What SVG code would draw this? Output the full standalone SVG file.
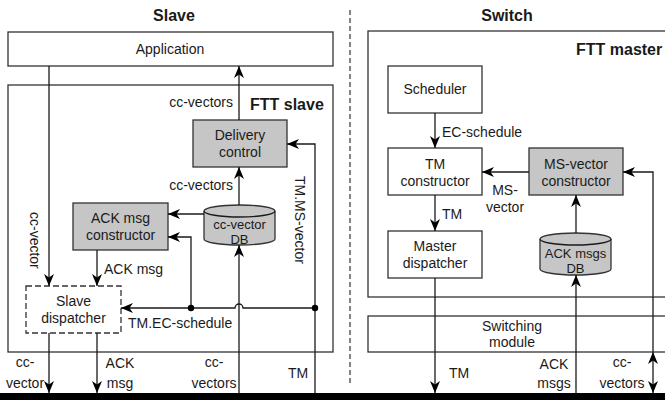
<svg xmlns="http://www.w3.org/2000/svg" width="665" height="400" viewBox="0 0 665 400">
  <style>
    text { font-family: "Liberation Sans", Arial, sans-serif; font-size: 14px; fill: #1a1a1a; }
    .title { font-size: 16px; font-weight: bold; }
    .mid { text-anchor: middle; }
    .db { font-size: 13px; }
    .box { fill: #ffffff; stroke: #333333; stroke-width: 1.3; }
    .grey { fill: #c6c6c6; stroke: #333333; stroke-width: 1.3; }
    .dash { fill: #ffffff; stroke: #333333; stroke-width: 1.3; stroke-dasharray: 6 3; }
    .wire { fill: none; stroke: #1a1a1a; stroke-width: 1.3; }
    .arr { marker-end: url(#head); }
  </style>
  <defs>
    <marker id="head" viewBox="-13 -6 14 12" refX="0" refY="0" markerWidth="14" markerHeight="12" markerUnits="userSpaceOnUse" orient="auto-start-reverse">
      <path d="M0,0 L-12,-5 L-8.5,0 L-12,5 Z" fill="#000000"/>
    </marker>
  </defs>

  <rect width="665" height="400" fill="#ffffff"/>

  <!-- section titles and divider -->
  <text class="title mid" x="174" y="21">Slave</text>
  <text class="title mid" x="507" y="21">Switch</text>
  <line x1="350" y1="10" x2="350" y2="384" stroke="#333333" stroke-width="1.2" stroke-dasharray="5 3"/>

  <!-- containers -->
  <g id="application">
    <rect class="box" x="8" y="32" width="325" height="34"/>
    <text class="mid" x="170" y="54">Application</text>
  </g>
  <g id="ftt-slave">
    <rect class="box" x="8" y="85" width="325" height="267"/>
    <text class="title" x="250" y="110">FTT slave</text>
  </g>
  <g id="ftt-master">
    <rect class="box" x="368" y="31" width="320" height="266"/>
    <text class="title" x="576" y="55">FTT master</text>
  </g>
  <g id="switching-module">
    <rect class="box" x="368" y="316" width="320" height="36"/>
    <text class="mid" x="512" y="331">Switching</text>
    <text class="mid" x="512" y="347">module</text>
  </g>

  <!-- slave nodes -->
  <g id="delivery-control">
    <rect class="grey" x="193" y="120" width="94" height="47"/>
    <text class="mid" x="240" y="140">Delivery</text>
    <text class="mid" x="240" y="157">control</text>
  </g>
  <g id="cc-vector-db">
    <path class="grey" d="M204,211 A35.5,6 0 0 1 275,211 V239 A35.5,6 0 0 1 204,239 Z"/>
    <path class="wire" d="M204,211 A35.5,6 0 0 0 275,211" stroke="#333333"/>
    <text class="mid db" x="239.5" y="229">cc-vector</text>
    <text class="mid db" x="239.5" y="244">DB</text>
  </g>
  <g id="ack-msg-constructor">
    <rect class="grey" x="73" y="203" width="95" height="47"/>
    <text class="mid" x="120.5" y="223">ACK msg</text>
    <text class="mid" x="120.5" y="240">constructor</text>
  </g>
  <g id="slave-dispatcher">
    <rect class="dash" x="26" y="286" width="95" height="47"/>
    <text class="mid" x="73.5" y="306">Slave</text>
    <text class="mid" x="73.5" y="323">dispatcher</text>
  </g>

  <!-- master nodes -->
  <g id="scheduler">
    <rect class="box" x="388" y="66" width="94" height="47"/>
    <text class="mid" x="435" y="94">Scheduler</text>
  </g>
  <g id="tm-constructor">
    <rect class="box" x="388" y="148" width="94" height="47"/>
    <text class="mid" x="435" y="169">TM</text>
    <text class="mid" x="435" y="186">constructor</text>
  </g>
  <g id="ms-vector-constructor">
    <rect class="grey" x="529" y="148" width="94" height="47"/>
    <text class="mid" x="576" y="169">MS-vector</text>
    <text class="mid" x="576" y="186">constructor</text>
  </g>
  <g id="master-dispatcher">
    <rect class="box" x="388" y="231" width="94" height="47"/>
    <text class="mid" x="435" y="251">Master</text>
    <text class="mid" x="435" y="268">dispatcher</text>
  </g>
  <g id="ack-msgs-db">
    <path class="grey" d="M540,239 A35.5,6 0 0 1 611,239 V269 A35.5,6 0 0 1 540,269 Z"/>
    <path class="wire" d="M540,239 A35.5,6 0 0 0 611,239" stroke="#333333"/>
    <text class="mid db" x="575.5" y="258">ACK msgs</text>
    <text class="mid db" x="575.5" y="273">DB</text>
  </g>

  <!-- network bus -->
  <g id="bus">
    <rect x="0" y="393" width="665" height="7" fill="#000000"/>
  </g>

  <!-- connectors -->
  <g id="connectors">
    <!-- slave side -->
    <path class="wire arr" d="M49,66 V286"/>
    <path class="wire arr" d="M239,120 V66"/>
    <path class="wire arr" d="M315,393 V144 H287"/>
    <path class="wire arr" d="M239,205 V167"/>
    <path class="wire arr" d="M204,214 H168"/>
    <path class="wire arr" d="M191,308 V237 H168"/>
    <path class="wire arr" d="M315,308 H243 A4,4 0 0 0 235,308 H121"/>
    <circle cx="191" cy="308" r="3.2" fill="#000000"/>
    <circle cx="315" cy="308" r="3.2" fill="#000000"/>
    <path class="wire arr" d="M97,250 V286"/>
    <path class="wire arr" d="M49,333 V393"/>
    <path class="wire arr" d="M97,333 V393"/>
    <path class="wire arr" d="M239,393 V245"/>

    <!-- switch side -->
    <path class="wire arr" d="M435,113 V148"/>
    <path class="wire arr" d="M529,172 H482"/>
    <path class="wire arr" d="M435,195 V231"/>
    <path class="wire arr" d="M435,278 V393"/>
    <path class="wire arr" d="M576,233 V195"/>
    <path class="wire arr" d="M576,393 V275"/>
    <path class="wire arr" d="M653,352 V172 H623"/>
    <path class="wire" d="M653,352 V393" marker-start="url(#head)" marker-end="url(#head)"/>

    <!-- connector labels -->
    <text x="233" y="107" text-anchor="end">cc-vectors</text>
    <text x="233" y="190" text-anchor="end">cc-vectors</text>
    <text transform="translate(30,212) rotate(90)">cc-vector</text>
    <text transform="translate(295,176) rotate(90)">TM.MS-vector</text>
    <text x="104" y="274">ACK msg</text>
    <text x="128" y="328">TM.EC-schedule</text>
    <text class="mid" x="25" y="367">cc-</text>
    <text class="mid" x="25" y="388">vector</text>
    <text class="mid" x="120" y="368">ACK</text>
    <text class="mid" x="120" y="388">msg</text>
    <text class="mid" x="214" y="367">cc-</text>
    <text class="mid" x="214" y="388">vectors</text>
    <text class="mid" x="298" y="378">TM</text>

    <text x="442" y="137">EC-schedule</text>
    <text class="mid" x="505" y="195">MS-</text>
    <text class="mid" x="505" y="212">vector</text>
    <text x="442" y="219">TM</text>
    <text class="mid" x="459" y="378">TM</text>
    <text class="mid" x="554" y="369">ACK</text>
    <text class="mid" x="554" y="388">msgs</text>
    <text class="mid" x="622" y="367">cc-</text>
    <text class="mid" x="622" y="388">vectors</text>
  </g>
</svg>
